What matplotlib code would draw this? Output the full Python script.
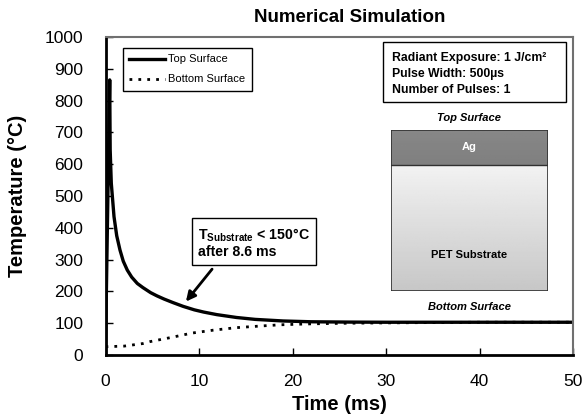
import numpy as np
import matplotlib
matplotlib.use('Agg')
from matplotlib import pyplot as plt
from matplotlib.patches import Rectangle

plt.rcParams['font.family'] = ['Liberation Sans', 'DejaVu Sans']
plt.rcParams['mathtext.fontset'] = 'custom'
plt.rcParams['mathtext.rm'] = 'Liberation Sans:bold'
plt.rcParams['mathtext.bf'] = 'Liberation Sans:bold'

# values
t_top = [0, 0.45, 0.5, 0.62, 0.91, 1.2, 1.55, 1.9, 2.33, 2.8, 3.4, 4.0, 4.83, 5.5,
         6.26, 7.2, 8.3, 9.5, 10.5, 11.9, 14, 16, 19, 22, 26, 30, 40, 50]
temp_top = [25, 865, 645, 540, 435, 375, 330, 295, 267, 245, 225, 212, 196, 186,
            176, 165, 153, 142, 135, 127, 118, 112, 107, 104.5, 103.5, 103, 103, 103]

t_bottom = [0, 2, 4, 4.75, 7, 9.25, 11.5, 14, 16.5, 18.7, 22, 26, 30, 35, 40, 45, 50]
temp_bottom = [26, 28, 36, 42, 55, 69, 78, 86, 91, 95, 98, 100, 101, 102, 103, 103, 103]

x_ticks = [0, 10, 20, 30, 40, 50]
y_ticks = [0, 100, 200, 300, 400, 500, 600, 700, 800, 900, 1000]

info_lines = ['Radiant Exposure: 1 J/cm\u00b2', 'Pulse Width: 500\u00b5s', 'Number of Pulses: 1']

fig = plt.figure(figsize=(5.85, 4.19), dpi=100)
ax = fig.add_axes([105.5 / 585, 64 / 419, 467.5 / 585, 318 / 419])

ax.plot(t_top, temp_top, color='black', lw=2.4, label='Top Surface')
ax.plot(t_bottom, temp_bottom, color='black', lw=2, linestyle=(0, (1, 2.2)),
        label='Bottom Surface')

ax.set_xlim(0, 50)
ax.set_ylim(0, 1000)
ax.set_xticks(x_ticks)
ax.set_yticks(y_ticks)
ax.tick_params(direction='in', length=5, width=1, labelsize=12.5)
ax.tick_params(axis='y', pad=16)
ax.tick_params(axis='x', pad=14)
for s in ['left', 'bottom']:
    ax.spines[s].set_linewidth(2)
    ax.spines[s].set_color('black')
for s in ['top', 'right']:
    ax.spines[s].set_linewidth(1.5)
    ax.spines[s].set_color('#707070')

ax.set_xlabel('Time (ms)', fontsize=14.5, fontweight='bold', labelpad=4)
ax.set_ylabel('Temperature (\u00b0C)', fontsize=14.5, fontweight='bold', labelpad=13)
fig.text(350 / 585, 1 - 18 / 419, 'Numerical Simulation', ha='center', va='center',
         fontsize=13.5, fontweight='bold')

leg = ax.legend(loc='upper left', bbox_to_anchor=(0.037, 0.966), fontsize=8,
                fancybox=False, edgecolor='black', framealpha=1, handlelength=3.2,
                borderpad=0.6, labelspacing=0.9, handletextpad=0.3, borderaxespad=0)
leg.get_frame().set_linewidth(1)

# info box
ax.add_patch(Rectangle((0.594, 0.795), 0.392, 0.188, transform=ax.transAxes,
                       facecolor='white', edgecolor='black', lw=1, zorder=3))
for i, line in enumerate(info_lines):
    ax.text(0.612, 0.933 - i * 0.05, line, transform=ax.transAxes, fontsize=8.8,
            fontweight='bold', va='center', ha='left', zorder=4)

# annotation
ax.text(9.9, 405, 'T$_{\\rm Substrate}$ < 150\u00b0C\nafter 8.6 ms', fontsize=10.2,
        fontweight='bold', ha='left', va='top', linespacing=1.1,
        bbox=dict(boxstyle='square,pad=0.45', facecolor='white', edgecolor='black', lw=1))
ax.annotate('', xy=(8.6, 168), xytext=(11.4, 270),
            arrowprops=dict(arrowstyle='-|>', color='black', lw=2, mutation_scale=14,
                            shrinkA=0, shrinkB=0))

# schematic
pos = ax.get_position()
sx, sy = 391 / 585, 1 - 291 / 419
sw, sh = 157 / 585, 161 / 419
cx = (sx + sw / 2 - pos.x0) / pos.width
ax.text(cx, (1 - 118 / 419 - pos.y0) / pos.height, 'Top Surface', transform=ax.transAxes,
        ha='center', va='center', fontsize=8, fontweight='bold', style='italic')
ax.text(cx, (1 - 307 / 419 - pos.y0) / pos.height, 'Bottom Surface', transform=ax.transAxes,
        ha='center', va='center', fontsize=8, fontweight='bold', style='italic')

sax = fig.add_axes([sx, sy, sw, sh])
sax.axis('off')
ag_frac = 35 / 161
grad_pet = np.linspace(0.95, 0.78, 100).reshape(-1, 1)
sax.imshow(grad_pet, cmap='gray', vmin=0, vmax=1, extent=(0, 1, 0, 1 - ag_frac),
           aspect='auto', origin='upper')
grad_ag = np.linspace(0.53, 0.5, 20).reshape(-1, 1)
sax.imshow(grad_ag, cmap='gray', vmin=0, vmax=1, extent=(0, 1, 1 - ag_frac, 1),
           aspect='auto', origin='upper')
sax.set_xlim(0, 1)
sax.set_ylim(0, 1)
sax.add_patch(Rectangle((0, 0), 1, 1, fill=False, edgecolor='#303030', lw=1.2))
sax.plot([0, 1], [1 - ag_frac, 1 - ag_frac], color='#303030', lw=1)
sax.text(0.5, 1 - ag_frac / 2, 'Ag', color='white', ha='center', va='center',
         fontsize=8, fontweight='bold')
sax.text(0.5, 1 - 125 / 161, 'PET Substrate', ha='center', va='center',
         fontsize=8, fontweight='bold')

fig.savefig('out.png', dpi=100)
